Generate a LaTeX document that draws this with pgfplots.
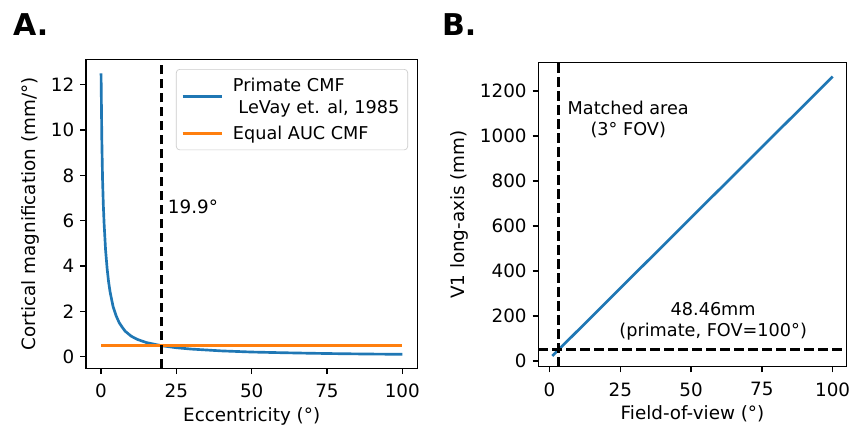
\documentclass[border=0pt]{standalone}
\usepackage{pgfplots}
\pgfplotsset{compat=1.18}
\usepackage{fontspec}
\setmainfont{DejaVu Sans}
\definecolor{tabblue}{HTML}{1F77B4}
\definecolor{taborange}{HTML}{FF7F0E}
\pgfplotsset{
  every axis/.append style={
    scale only axis,
    axis line style={line width=0.8pt},
    tick align=outside,
    xtick pos=left, ytick pos=left,
    major tick length=3.5pt,
    every tick/.style={line width=0.8pt, black},
    /pgf/number format/assume math mode=true,
    /pgf/number format/1000 sep={},
    tick label style={font=\fontsize{11}{13}\selectfont},
    xticklabel style={yshift=-2.5pt},
    label style={font=\fontsize{11}{13}\selectfont},
    xlabel style={yshift=1.2pt},
    axis background/.style={fill=white},
  }
}
\begin{document}
\begin{tikzpicture}
\useasboundingbox (0,0) rectangle (510pt,-254.4pt);
\node[anchor=north west, inner sep=0pt, font=\fontsize{18}{20}\selectfont\bfseries] at (7.6pt,-8pt) {A.};
\node[anchor=north west, inner sep=0pt, font=\fontsize{18}{20}\selectfont\bfseries] at (265pt,-8pt) {B.};
\begin{axis}[
  at={(51.6pt,-221pt)}, anchor=south west,
  width=198.8pt, height=185.4pt,
  xmin=-5, xmax=105, ymin=-0.52, ymax=13.12,
  xtick={0,25,50,75,100}, ytick={0,2,4,6,8,10,12},
  xlabel={Eccentricity (°)},
  ylabel={Cortical magnification (mm/°)},
  legend style={at={(1,1)}, anchor=north east, xshift=-5.6pt, yshift=-5.8pt,
    draw=black!20, rounded corners=2pt, fill=white, font=\fontsize{10.6}{13.2}\selectfont,
    cells={align=left}, inner xsep=3pt, inner ysep=3pt, row sep=2pt, column sep=4pt},
  legend cell align=left,
  legend image code/.code={\draw[line width=1.6pt] (0pt,0pt) -- (23.4pt,0pt);},
]
\addplot[tabblue, line width=1.6pt] coordinates {
(0,12.5) (0.25,9.6) (0.5,7.8) (0.75,6.7) (1,5.9) (1.5,4.7) (2,3.9) (2.5,3.3)
(3,2.85) (4,2.2) (5,1.8) (6,1.5) (7,1.3) (8,1.12) (10,0.9) (12,0.76) (15,0.62)
(20,0.48) (25,0.39) (30,0.33) (40,0.25) (50,0.2) (60,0.17) (70,0.145) (80,0.125)
(90,0.11) (100,0.1)};
\addlegendentry{Primate CMF\\\hspace*{3.3pt}LeVay et. al, 1985}
\addplot[taborange, line width=1.6pt] coordinates {(0,0.487) (100,0.487)};
\addlegendentry{Equal AUC CMF}
\addplot[black, line width=1.8pt, dash pattern=on 5.8pt off 2.6pt, forget plot] coordinates {(19.9,-0.52) (19.9,13.12)};
\node[anchor=west, inner sep=0pt, font=\fontsize{11}{13}\selectfont] at (axis cs:22.1,6.61) {19.9°};
\end{axis}
\begin{axis}[
  at={(323pt,-219.9pt)}, anchor=south west,
  width=185pt, height=182.3pt,
  xmin=-3.95, xmax=104.95, ymin=-25, ymax=1326,
  xtick={0,25,50,75,100}, ytick={0,200,400,600,800,1000,1200},
  xlabel={Field-of-view (°)},
  ylabel={V1 long-axis (mm)},
]
\addplot[tabblue, line width=1.6pt] coordinates {(1,22) (100,1264)};
\addplot[black, line width=1.8pt, dash pattern=on 5.8pt off 2.6pt] coordinates {(3,-25) (3,1326)};
\addplot[black, line width=1.8pt, dash pattern=on 5.8pt off 2.6pt] coordinates {(-3.95,48.46) (104.95,48.46)};
\node[align=center, inner sep=0pt, font=\fontsize{10.6}{12.6}\selectfont] at (axis cs:27.8,1073) {Matched area\\(3° FOV)};
\node[align=center, inner sep=0pt, font=\fontsize{10.6}{12.6}\selectfont] at (axis cs:57.8,174) {48.46mm\\(primate, FOV=100°)};
\end{axis}
\end{tikzpicture}
\end{document}
